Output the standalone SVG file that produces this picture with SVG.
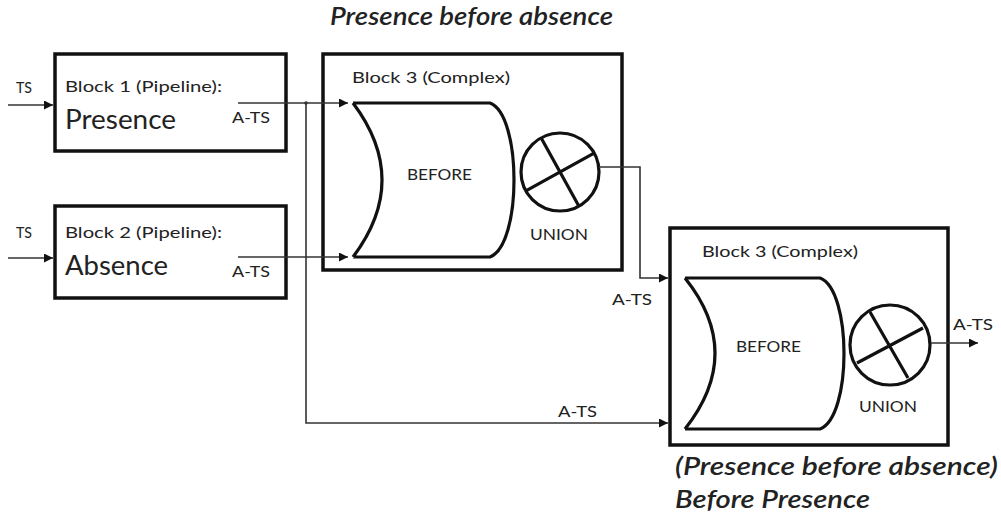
<svg xmlns="http://www.w3.org/2000/svg" width="1001" height="521" viewBox="0 0 1001 521">
<style>
text{font-family:Lato,"Open Sans","Liberation Sans",sans-serif;fill:#222}
.box{fill:none;stroke:#111;stroke-width:3.5}
.gate{fill:none;stroke:#111;stroke-width:3.2}
.conn{fill:none;stroke:#333;stroke-width:1.6}
.s{font-size:16px}
.big{font-size:26px}
.it{font-style:italic;font-weight:600;font-size:24px}
</style>
<defs>
<marker id="ah" viewBox="0 0 10 10" refX="10" refY="5" markerWidth="10" markerHeight="9" markerUnits="userSpaceOnUse" orient="auto">
<path d="M0,0 L10,5 L0,10 z" fill="#111"/>
</marker>
</defs>
<rect width="1001" height="521" fill="#fff"/>
<text class="it" x="330" y="25" textLength="283" lengthAdjust="spacingAndGlyphs">Presence before absence</text>
<g id="block1">
<rect class="box" x="55" y="54" width="231" height="97"/>
<text class="s" x="65" y="92" textLength="157" lengthAdjust="spacingAndGlyphs">Block 1 (Pipeline):</text>
<text class="big" x="65" y="129" textLength="111" lengthAdjust="spacingAndGlyphs">Presence</text>
<text class="s" x="232" y="123" textLength="38" lengthAdjust="spacingAndGlyphs">A-TS</text>
</g>
<g id="block2">
<rect class="box" x="55" y="206" width="231" height="92"/>
<text class="s" x="65" y="238" textLength="157" lengthAdjust="spacingAndGlyphs">Block 2 (Pipeline):</text>
<text class="big" x="65" y="275" textLength="103" lengthAdjust="spacingAndGlyphs">Absence</text>
<text class="s" x="232" y="277" textLength="38" lengthAdjust="spacingAndGlyphs">A-TS</text>
</g>
<g id="block3a">
<rect class="box" x="323" y="54" width="299" height="216"/>
<text class="s" x="352" y="83" textLength="158" lengthAdjust="spacingAndGlyphs">Block 3 (Complex)</text>
<path class="gate" d="M353,103 Q411,180 353,257 M353,103 L490,103 C522,115 522,245 490,257 L353,257"/>
<text class="s" x="407" y="180" textLength="65" lengthAdjust="spacingAndGlyphs">BEFORE</text>
<circle class="gate" cx="560" cy="172" r="39"/>
<path class="gate" d="M541.6,138.8 L578.4,205.2 M526.8,190.4 L593.2,153.6"/>
<text class="s" x="530" y="240" textLength="58" lengthAdjust="spacingAndGlyphs">UNION</text>
</g>
<g id="block3b">
<rect class="box" x="670" y="228" width="278" height="217"/>
<text class="s" x="702" y="257" textLength="156" lengthAdjust="spacingAndGlyphs">Block 3 (Complex)</text>
<path class="gate" d="M685,278 Q745,353 685,429 M685,278 L820,278 C852,290 852,417 820,429 L685,429"/>
<text class="s" x="736" y="352" textLength="65" lengthAdjust="spacingAndGlyphs">BEFORE</text>
<circle class="gate" cx="890" cy="345" r="40"/>
<path class="gate" d="M870,312 L908,378 M857,363 L923,328"/>
<text class="s" x="859" y="412" textLength="58" lengthAdjust="spacingAndGlyphs">UNION</text>
</g>
<g id="connectors">
<path class="conn" d="M8,105 L53,105" marker-end="url(#ah)"/>
<path class="conn" d="M8,258 L53,258" marker-end="url(#ah)"/>
<path class="conn" d="M238,103 L348,103" marker-end="url(#ah)"/>
<path class="conn" d="M238,257 L348,257" marker-end="url(#ah)"/>
<path class="conn" d="M306,103 L306,423 L668,423" marker-end="url(#ah)"/>
<path class="conn" d="M599,167 L640,167 L640,278 L668,278" marker-end="url(#ah)"/>
<path class="conn" d="M931,343 L978,343" marker-end="url(#ah)"/>
<circle cx="306" cy="103" r="1.8" fill="#333"/>
</g>
<g id="labels">
<text class="s" x="16" y="93" textLength="16" lengthAdjust="spacingAndGlyphs">TS</text>
<text class="s" x="16" y="238" textLength="16" lengthAdjust="spacingAndGlyphs">TS</text>
<text class="s" x="612" y="305" textLength="40" lengthAdjust="spacingAndGlyphs">A-TS</text>
<text class="s" x="558" y="417" textLength="39" lengthAdjust="spacingAndGlyphs">A-TS</text>
<text class="s" x="953" y="330" textLength="40" lengthAdjust="spacingAndGlyphs">A-TS</text>
</g>
<text class="it" x="675" y="475" textLength="323" lengthAdjust="spacingAndGlyphs">(Presence before absence)</text>
<text class="it" x="675" y="508" textLength="195" lengthAdjust="spacingAndGlyphs">Before Presence</text>
</svg>
